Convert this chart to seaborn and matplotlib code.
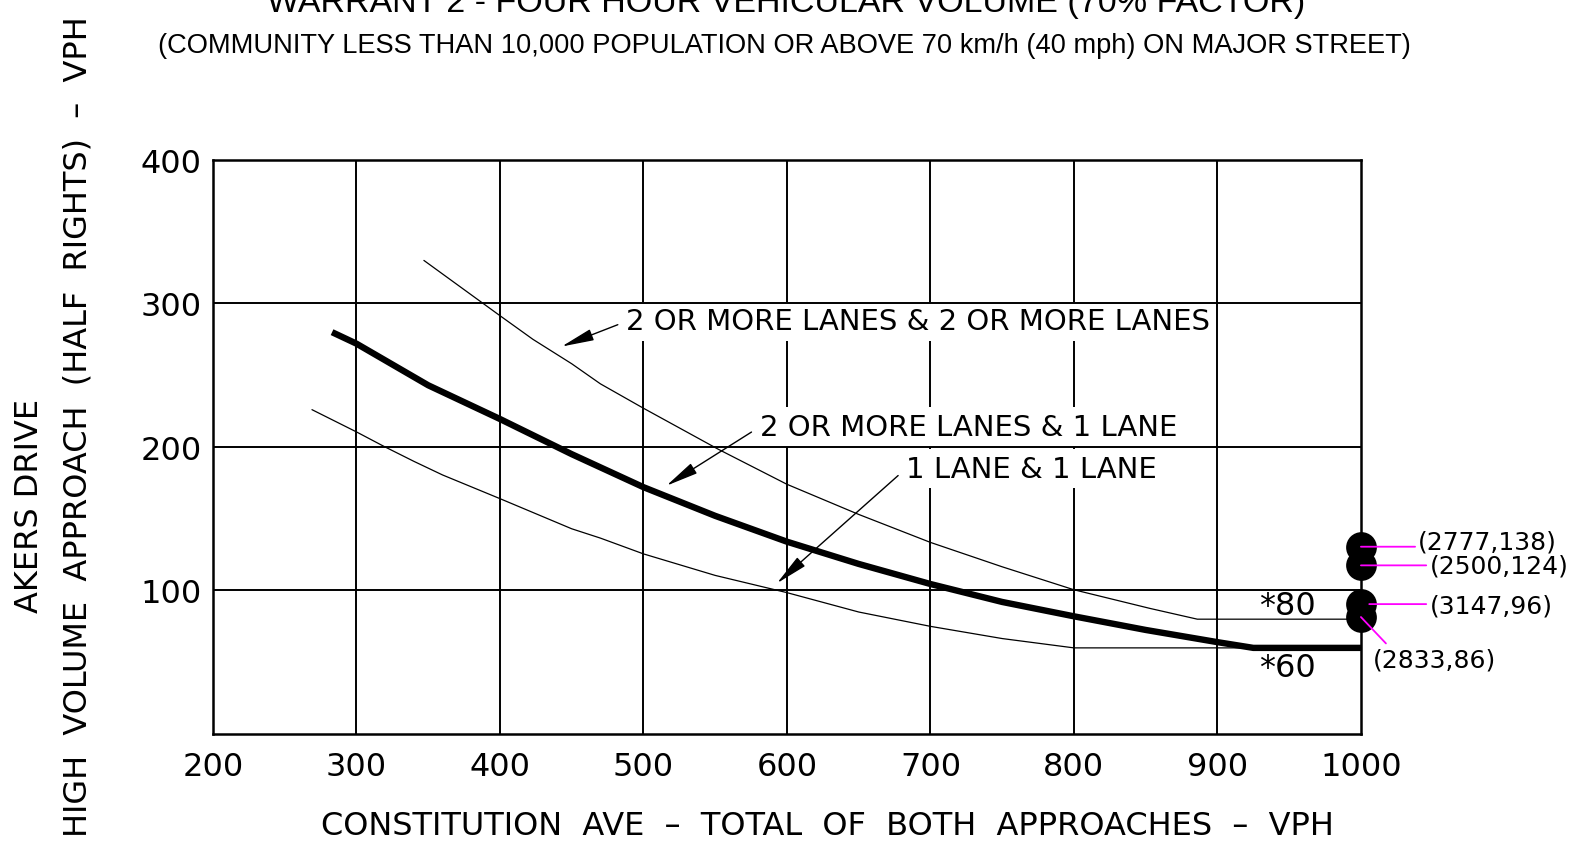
import matplotlib
matplotlib.use("Agg")
import matplotlib.pyplot as plt
import seaborn as sns

# warrant curves (major street total vph -> minor approach vph)
two_two_x = [347, 400, 423, 450, 470, 500, 552, 600, 650, 700, 750, 800, 853, 886, 1000]
two_two_y = [330, 291.5, 275, 258, 244, 227, 198.5, 174, 153, 133.5, 116.5, 100.5, 87.5, 80, 80]

two_one_x = [283, 300, 350, 400, 450, 500, 550, 600, 650, 700, 750, 800, 850, 900, 925, 1000]
two_one_y = [280, 272, 243, 219.5, 195, 172, 152, 134, 118.5, 104.5, 92, 82, 72.5, 64, 60, 60]

one_one_x = [269, 300, 319, 340, 360, 400, 450, 470, 500, 550, 600, 650, 700, 750, 800, 1000]
one_one_y = [226, 210.5, 200.5, 190, 180.5, 164, 143, 136.5, 125.5, 110.5, 98.5, 85, 75, 66.5, 60, 60]

# counted hours, drawn at the right edge of the chart
point_labels = ["(2777,138)", "(2500,124)", "(3147,96)", "(2833,86)"]
point_x = [1000, 1000, 1000, 1000]
point_y = [130.5, 117.5, 90.5, 81.5]

x_ticks = [200, 300, 400, 500, 600, 700, 800, 900, 1000]
y_ticks = [100, 200, 300, 400]

sns.set_style("white")
plt.rcParams["font.family"] = ["DejaVu Sans"]
plt.rcParams["text.color"] = "k"
plt.rcParams["axes.labelcolor"] = "k"
plt.rcParams["xtick.color"] = "k"
plt.rcParams["ytick.color"] = "k"
arial = ["Liberation Sans", "DejaVu Sans"]

fig = plt.figure(figsize=(15.81, 8.45), dpi=100)
ax = fig.add_axes([0.1347, 0.1302, 0.7261, 0.6793])

# grid
for x in x_ticks[1:-1]:
    ax.axvline(x, color="k", lw=1.4, zorder=1)
for y in y_ticks[:-1]:
    ax.axhline(y, color="k", lw=1.4, zorder=4)

# curves
sns.lineplot(x=two_two_x, y=two_two_y, ax=ax, color="k", lw=0.9, sort=False, estimator=None, zorder=2)
sns.lineplot(x=one_one_x, y=one_one_y, ax=ax, color="k", lw=0.9, sort=False, estimator=None, zorder=2)
sns.lineplot(x=two_one_x, y=two_one_y, ax=ax, color="k", lw=4.6, sort=False, estimator=None, zorder=2,
             solid_capstyle="butt")

# labels with arrows
box = dict(boxstyle="square,pad=0.2", fc="white", ec="none")
arrow = dict(arrowstyle="-|>,head_length=1.0,head_width=0.18", color="k", lw=1.0,
             mutation_scale=20, relpos=(0, 0.5), shrinkA=2, shrinkB=0)
ax.annotate("2 OR MORE LANES & 2 OR MORE LANES", xy=(443, 270), xytext=(488, 287.5),
            ha="left", va="center", fontsize=21, bbox=box, arrowprops=arrow, zorder=3)
ax.annotate("2 OR MORE LANES & 1 LANE", xy=(516, 173), xytext=(581, 214),
            ha="left", va="center", fontsize=21, bbox=box, arrowprops=arrow, zorder=3)
ax.annotate("1 LANE & 1 LANE", xy=(593, 105), xytext=(683, 185),
            ha="left", va="center", fontsize=21, bbox=box, arrowprops=arrow, zorder=3)
ax.text(949, 89.5, "*80", ha="center", va="center", fontsize=23)
ax.text(949, 46.5, "*60", ha="center", va="center", fontsize=23)

# study points
sns.scatterplot(x=point_x, y=point_y, ax=ax, s=420, color="k", edgecolor="k", zorder=5, clip_on=False)
line_end = [(39, 0), (47, 0), (47, 0), (18, -19)]
line_gap = [0, 0, 6, 0]
text_off = [(41, 3.5), (49.5, 0), (49.5, -1.2), (8.5, -30.5)]
for i, lab in enumerate(point_labels):
    ax.annotate("", xy=(point_x[i], point_y[i]), xytext=line_end[i], textcoords="offset points",
                arrowprops=dict(arrowstyle="-", color="#ff00ff", lw=1.3, shrinkA=0, shrinkB=line_gap[i]),
                zorder=6, annotation_clip=False)
    ax.annotate(lab, xy=(point_x[i], point_y[i]), xytext=text_off[i], textcoords="offset points",
                ha="left", va="center", fontsize=18, annotation_clip=False)

# axes
ax.set_xlim(200, 1000)
ax.set_ylim(0, 400)
ax.set_xticks(x_ticks)
ax.set_yticks(y_ticks)
ax.tick_params(length=0, labelsize=23)
ax.tick_params(axis="x", pad=12)
ax.tick_params(axis="y", pad=8)
for s in ax.spines.values():
    s.set_linewidth(1.8)
    s.set_color("k")

ax.set_xlabel("CONSTITUTION  AVE  \u2013  TOTAL  OF  BOTH  APPROACHES  \u2013  VPH", fontsize=23, va="center")
ax.xaxis.set_label_coords(0.535, -0.16)
ax.set_ylabel("HIGH  VOLUME  APPROACH  (HALF  RIGHTS)  \u2013  VPH", fontsize=23, va="center")
ax.yaxis.set_label_coords(-0.1176, 0.5366)
ax.text(-0.1594, 0.399, "AKERS DRIVE", transform=ax.transAxes, rotation=90,
        ha="center", va="center", fontsize=23)

fig.text(0.497, 0.9858, "WARRANT 2 - FOUR HOUR VEHICULAR VOLUME (70% FACTOR)",
         ha="center", va="baseline", fontsize=24.5, family=arial)
fig.text(0.4962, 0.946, "(COMMUNITY LESS THAN 10,000 POPULATION OR ABOVE 70 km/h (40 mph) ON MAJOR STREET)",
         ha="center", va="center", fontsize=19.6, family=arial)

fig.savefig("out.png", dpi=100, facecolor="white")
